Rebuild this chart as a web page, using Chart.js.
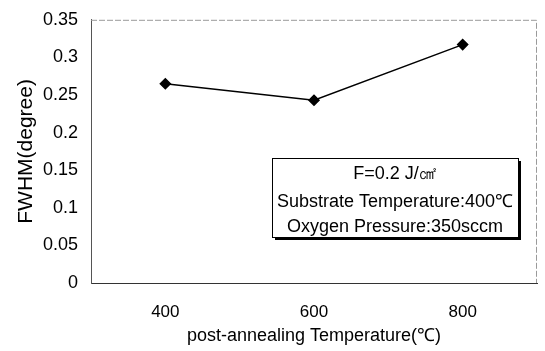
<!DOCTYPE html>
<html>
<head>
<meta charset="utf-8">
<script src="https://cdn.jsdelivr.net/npm/chart.js@4"></script>
<style>
  html, body { margin: 0; padding: 0; background: #fff; }
  #wrap { width: 545px; height: 351px; position: relative; }
</style>
</head>
<body>
<div id="wrap"><canvas id="chartFwhm" width="545" height="351"></canvas></div>
<script>
// data
const temps = ["400", "600", "800"];
const fwhm = [0.265, 0.243, 0.317];
const yTicks = [0, 0.05, 0.1, 0.15, 0.2, 0.25, 0.3, 0.35];
const noteLines = ["F=0.2 J/㎠", "Substrate Temperature:400℃", "Oxygen Pressure:350sccm"];

const FONT = "'Liberation Sans', Arial, sans-serif";

/* ── note box drawn inside the plot ── */
const noteBox = {
  id: "noteBox",
  afterDraw(chart) {
    const ctx = chart.ctx;
    const x = 272, y = 158, w = 246, h = 79;
    ctx.save();
    ctx.fillStyle = "#000";
    ctx.fillRect(x + 3, y + 3, w, h); // shadow
    ctx.fillStyle = "#fff";
    ctx.fillRect(x, y, w, h);
    ctx.strokeStyle = "#000";
    ctx.lineWidth = 1;
    ctx.strokeRect(x + 0.5, y + 0.5, w, h);
    ctx.fillStyle = "#000";
    ctx.font = "18px " + FONT;
    ctx.textAlign = "center";
    ctx.textBaseline = "middle";
    const cx = x + w / 2;
    ctx.fillText(noteLines[0], cx, 174);
    ctx.fillText(noteLines[1], cx, 202);
    ctx.fillText(noteLines[2], cx, 227);
    ctx.restore();
  },
};

/* ── faint frame on top / right of the plot ── */
const frame = {
  id: "frame",
  beforeDatasetsDraw(chart) {
    const { left, right, top, bottom } = chart.chartArea;
    const ctx = chart.ctx;
    ctx.save();
    ctx.strokeStyle = "#9a9a9a";
    ctx.lineWidth = 1;
    ctx.setLineDash([6, 2]);
    ctx.beginPath();
    ctx.moveTo(left, top + 0.5);
    ctx.lineTo(right - 0.5, top + 0.5);
    ctx.lineTo(right - 0.5, bottom);
    ctx.stroke();
    ctx.restore();
  },
};

new Chart(document.getElementById("chartFwhm"), {
  type: "line",
  data: {
    labels: temps,
    datasets: [
      {
        data: fwhm,
        borderColor: "#000",
        backgroundColor: "#000",
        borderWidth: 1.5,
        pointStyle: "rectRot",
        pointRadius: 5,
        tension: 0,
      },
    ],
  },
  options: {
    responsive: false,
    animation: false,
    devicePixelRatio: 1,
    layout: { padding: { top: 15, right: 8, left: 0, bottom: 0 } },
    plugins: { legend: { display: false }, tooltip: { enabled: false } },
    scales: {
      x: {
        offset: true,
        grid: { display: false, drawTicks: false },
        border: { color: "#333", width: 1 },
        ticks: { color: "#000", font: { family: FONT, size: 17 }, padding: 19 },
        title: {
          display: true,
          text: "post-annealing Temperature(℃)",
          color: "#000",
          font: { family: FONT, size: 18 },
          padding: { top: 0 },
        },
        afterFit: (s) => { s.height = 68; },
      },
      y: {
        min: 0,
        max: 0.35,
        afterBuildTicks: (s) => { s.ticks = yTicks.map((v) => ({ value: v })); },
        grid: { display: false, drawTicks: true, tickLength: 4, tickColor: "#666" },
        border: { color: "#555", width: 1 },
        ticks: {
          color: "#000",
          autoSkip: false,
          font: { family: FONT, size: 18 },
          padding: 9,
          callback: (v) => String(+v.toFixed(2)),
        },
        title: {
          display: true,
          text: "FWHM(degree)",
          color: "#000",
          font: { family: FONT, size: 21 },
          padding: { top: 14, bottom: 0 },
        },
        afterFit: (s) => { s.width = 91; },
      },
    },
  },
  plugins: [frame, noteBox],
});
</script>
</body>
</html>
